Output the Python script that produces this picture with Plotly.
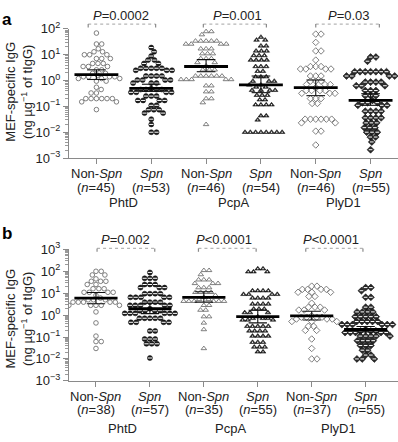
import numpy as np
import plotly.graph_objects as go

# ---------------- data ----------------
proteins = ["PhtD", "PcpA", "PlyD1"]
group_names = ["Non-Spn", "Spn"]
n_a = [45, 53, 46, 54, 46, 55]
n_b = [38, 57, 35, 55, 37, 55]
p_a = ["=0.0002", "=0.001", "=0.03"]
p_b = ["=0.002", "<0.0001", "<0.0001"]

# panel a: MEF-specific IgG (ng per ug tIgG)
a_phtd_non = [69, 26, 26, 17, 13, 13, 10, 10, 10, 7.1, 7.1, 7.1, 4.6, 4.6, 4.6, 3.5, 3.5, 3.5,
              2.6, 2.6, 1.9, 1.9, 1.6, 1.4, 1.4, 1.4, 1.4, 1.2, 1.2, 1.2, 0.95, 0.95, 0.55, 0.45,
              0.33, 0.33, 0.2, 0.2, 0.2, 0.2, 0.2, 0.2, 0.15, 0.15, 0.075]
a_phtd_spn = [19, 13, 8.9, 6.2, 6.2, 4.6, 4.6, 3.0, 3.0, 3.0, 3.0, 3.0, 2.5, 2.5, 2.5, 1.5, 1.5,
              1.5, 1.5, 1.05, 1.05, 1.05, 1.05, 0.8, 0.8, 0.8, 0.48, 0.45, 0.45, 0.45, 0.45, 0.35,
              0.35, 0.35, 0.35, 0.25, 0.25, 0.25, 0.17, 0.17, 0.17, 0.17, 0.11, 0.11, 0.074, 0.074,
              0.074, 0.055, 0.055, 0.032, 0.02, 0.01, 0.01]
a_pcpa_non = [79, 79, 60, 34, 34, 34, 34, 34, 26, 26, 26, 26, 17, 17, 17, 11, 11, 11, 7.1, 7.1,
              7.1, 5, 5, 3.7, 2.6, 2.6, 2.6, 1.5, 1.5, 1.5, 1.5, 1.5, 1.5, 1.1, 1.1, 1.1, 1.1, 1.1,
              0.63, 0.63, 0.37, 0.37, 0.2, 0.2, 0.14, 0.02]
a_pcpa_spn = [48, 37, 37, 22, 22, 14, 14, 14, 9.3, 9.3, 9.3, 6.2, 6.2, 6.2, 6.2, 3.5, 3.5, 3.5,
              2.3, 2.3, 1.4, 1.4, 1.4, 0.95, 0.95, 0.95, 0.68, 0.68, 0.56, 0.56, 0.42, 0.42, 0.42,
              0.42, 0.27, 0.27, 0.27, 0.18, 0.18, 0.115, 0.115, 0.115, 0.115, 0.043, 0.043, 0.03,
              0.01, 0.01, 0.01, 0.01, 0.01, 0.01, 0.01, 0.01]
a_plyd_non = [63, 63, 30, 14, 14, 6.2, 3.5, 3.5, 3.5, 2.8, 2.8, 2.8, 2.8, 1.5, 1.5, 1.5, 0.95,
              0.95, 0.95, 0.7, 0.7, 0.7, 0.54, 0.41, 0.41, 0.41, 0.41, 0.32, 0.32, 0.32, 0.2, 0.2,
              0.2, 0.13, 0.13, 0.032, 0.032, 0.032, 0.032, 0.032, 0.032, 0.023, 0.023, 0.011,
              0.011, 0.0032]
a_plyd_spn = [8.1, 8.1, 5.6, 2.2, 2.2, 2.2, 2.2, 2.2, 2.2, 2.2, 1.5, 1.5, 1.5, 1.5, 0.87, 0.87,
              0.87, 0.87, 0.63, 0.63, 0.63, 0.41, 0.41, 0.41, 0.26, 0.26, 0.26, 0.17, 0.14, 0.14,
              0.14, 0.11, 0.11, 0.11, 0.065, 0.065, 0.065, 0.065, 0.036, 0.036, 0.036, 0.036,
              0.023, 0.023, 0.023, 0.015, 0.015, 0.015, 0.01, 0.01, 0.01, 0.0065, 0.0065, 0.0042,
              0.0021]
a_center = [1.7, 0.5, 3.5, 0.68, 0.53, 0.17]
a_lo = [1.1, 0.38, 2.2, 0.34, 0.26, 0.11]
a_hi = [2.6, 0.72, 6.5, 1.5, 1.05, 0.31]

# panel b
b_phtd_non = [100, 100, 68, 68, 45, 35, 35, 35, 25, 25, 16, 16, 16, 11, 11, 11, 11, 8, 6.0, 5, 5,
              5, 3.9, 3.9, 3.9, 3.9, 3.9, 2.8, 2.8, 2.8, 2.8, 2.8, 1.4, 0.44, 0.11, 0.062, 0.062, 0.03]
b_phtd_spn = [89, 48, 48, 48, 25, 25, 25, 18, 18, 18, 9.5, 9.5, 9.5, 9.5, 6.5, 6.5, 6.5, 6.5, 6.5,
              3.9, 3.9, 3.9, 3.9, 2.8, 2.8, 2.8, 2.8, 2.8, 1.95, 1.6, 1.6, 1.6, 1.6, 1.2, 1.2, 1.2,
              1.2, 1.2, 1.2, 0.72, 0.72, 0.72, 0.72, 0.72, 0.47, 0.47, 0.47, 0.47, 0.19, 0.19,
              0.081, 0.081, 0.081, 0.049, 0.049, 0.049, 0.011]
b_pcpa_non = [110, 110, 71, 41, 41, 41, 28, 28, 28, 18, 18, 18, 11, 11, 11, 11, 8, 6.5, 5.2, 5.2,
              4.3, 4.3, 4.3, 4.3, 4.3, 4.3, 2.8, 2.8, 1.7, 1.7, 0.85, 0.85, 0.44, 0.22, 0.03]
b_pcpa_spn = [130, 130, 95, 95, 95, 13, 13, 13, 13, 8.9, 8.9, 8.9, 8.9, 6, 6, 6, 6, 3.2, 3.2, 3.2,
              3.2, 1.9, 1.9, 1.9, 1.3, 1.3, 1.3, 0.85, 0.71, 0.71, 0.71, 0.6, 0.6, 0.6, 0.31, 0.31,
              0.31, 0.31, 0.31, 0.19, 0.19, 0.19, 0.19, 0.11, 0.11, 0.11, 0.11, 0.058, 0.058, 0.058,
              0.035, 0.035, 0.035, 0.021, 0.021]
b_plyd_non = [21, 21, 15, 15, 15, 15, 11, 11, 11, 7.1, 7.1, 3.5, 2.3, 2.3, 2.3, 1.7, 1.7, 1.7,
              0.93, 0.8, 0.8, 0.8, 0.8, 0.66, 0.66, 0.66, 0.51, 0.51, 0.51, 0.31, 0.31, 0.2, 0.2,
              0.081, 0.03, 0.01, 0.01]
b_plyd_spn = [18, 18, 13, 6.5, 6.5, 2.3, 2.3, 1.4, 1.4, 1.4, 1.4, 0.85, 0.85, 0.85, 0.85, 0.85,
              0.51, 0.51, 0.51, 0.51, 0.51, 0.37, 0.37, 0.37, 0.37, 0.37, 0.37, 0.22, 0.19, 0.19,
              0.19, 0.16, 0.16, 0.16, 0.16, 0.16, 0.11, 0.11, 0.11, 0.11, 0.11, 0.068, 0.068,
              0.068, 0.068, 0.041, 0.041, 0.041, 0.025, 0.025, 0.015, 0.015, 0.01, 0.01, 0.01]
b_center = [6.0, 1.95, 6.5, 0.85, 0.93, 0.22]
b_lo = [3.3, 1.17, 3.9, 0.44, 0.6, 0.17]
b_hi = [10.7, 3.5, 11.7, 1.66, 1.5, 0.3]

panel_a = [a_phtd_non, a_phtd_spn, a_pcpa_non, a_pcpa_spn, a_plyd_non, a_plyd_spn]
panel_b = [b_phtd_non, b_phtd_spn, b_pcpa_non, b_pcpa_spn, b_plyd_non, b_plyd_spn]

# ---------------- helpers ----------------
FONT = "Liberation Sans, Arial, Helvetica, sans-serif"
W, H = 398, 442
TXT = "#222"
AX = "#8a8a8a"


def swarm(vals, px_dec, px_unit, d=5.3):
    y = np.log10(np.asarray(vals, float)) * px_dec
    order = np.argsort(-y, kind="stable")
    placed = []
    xs = np.zeros(len(y))
    for i in order:
        cands = [0.0]
        for xj, yj in placed:
            dy = abs(y[i] - yj)
            if dy < d:
                dx = np.sqrt(d * d - dy * dy)
                cands += [xj + dx, xj - dx]
        cands.sort(key=lambda c: (round(abs(c), 6), -c))
        for c in cands:
            if all((c - xj) ** 2 + (y[i] - yj) ** 2 >= d * d - 1e-6 for xj, yj in placed):
                xs[i] = c
                break
        placed.append((xs[i], y[i]))
    return xs / px_unit


GREY = "#707070"
styles = [
    dict(symbol="circle-open", color=GREY, size=4.6, line=dict(width=0.9, color=GREY)),
    dict(symbol="circle", color="#1c1c1c", size=5, line=dict(width=0.5, color="#000")),
    dict(symbol="triangle-up-open", color=GREY, size=4.8, line=dict(width=0.9, color=GREY)),
    dict(symbol="triangle-up", color="#2a2a2a", size=5, line=dict(width=0.5, color="#000")),
    dict(symbol="diamond-open", color=GREY, size=5, line=dict(width=0.9, color=GREY)),
    dict(symbol="diamond", color="#2a2a2a", size=5.4, line=dict(width=0.5, color="#000")),
]
overlay = [None, dict(symbol="line-ew-open", size=3, color="#ffffff", line=dict(width=1, color="#e0e0e0")),
           None, dict(symbol="circle", size=1.4, color="#ffffff", line=dict(width=0)),
           None, dict(symbol="line-ew-open", size=2.6, color="#ffffff", line=dict(width=1, color="#e0e0e0"))]

fig = go.Figure()

panels = [
    dict(data=panel_a, n=n_a, c=a_center, lo=a_lo, hi=a_hi, xa="x", ya="y", pxdec=26.9, pxu=54.8),
    dict(data=panel_b, n=n_b, c=b_center, lo=b_lo, hi=b_hi, xa="x2", ya="y2", pxdec=22.8, pxu=54.3),
]

for P in panels:
    for k, vals in enumerate(P["data"]):
        off = swarm(vals, P["pxdec"], P["pxu"])
        xs = k + off
        fig.add_trace(go.Scatter(x=xs, y=vals, mode="markers", marker=styles[k],
                                 xaxis=P["xa"], yaxis=P["ya"], showlegend=False, hoverinfo="skip"))
        if overlay[k] is not None:
            fig.add_trace(go.Scatter(x=xs, y=vals, mode="markers", marker=overlay[k],
                                     xaxis=P["xa"], yaxis=P["ya"], showlegend=False, hoverinfo="skip"))
    # centre line and error bars
    mx, my, ex, ey = [], [], [], []
    for k in range(6):
        mx += [k - 0.4, k + 0.4, None]
        my += [P["c"][k], P["c"][k], None]
        ex += [k, k, None, k - 0.17, k + 0.17, None, k - 0.17, k + 0.17, None]
        ey += [P["lo"][k], P["hi"][k], None, P["lo"][k], P["lo"][k], None, P["hi"][k], P["hi"][k], None]
    fig.add_trace(go.Scatter(x=ex, y=ey, mode="lines", line=dict(color="#111", width=1.1),
                             xaxis=P["xa"], yaxis=P["ya"], showlegend=False, hoverinfo="skip"))
    fig.add_trace(go.Scatter(x=mx, y=my, mode="lines", line=dict(color="#000", width=2.8),
                             xaxis=P["xa"], yaxis=P["ya"], showlegend=False, hoverinfo="skip"))


def ylog_axis(lo, hi, dom, anchor):
    vals = [10.0 ** e for e in range(lo, hi + 1)]
    txt = [f"10<sup>{'−' if e < 0 else ''}{abs(e)}</sup>" for e in range(lo, hi + 1)]
    minor_vals = [m * 10.0 ** e for e in range(lo, hi) for m in range(2, 10)]
    return dict(type="log", range=[lo, hi], domain=dom, tickvals=vals, ticktext=txt, anchor=anchor,
                showgrid=False, zeroline=False, showline=True, linecolor=AX, linewidth=1.3,
                ticks="outside", ticklen=5, tickcolor=AX, tickwidth=1.3,
                minor=dict(tickvals=minor_vals, ticks="outside", ticklen=2.5, tickcolor="#9a9a9a",
                           tickwidth=1, showgrid=False),
                tickfont=dict(size=13, color=TXT, family=FONT), fixedrange=True)


def x_axis(rng, anchor):
    return dict(range=rng, domain=[69 / W, 1.0], tickvals=list(range(6)), showticklabels=False,
                showgrid=False, zeroline=False, showline=True, linecolor=AX, linewidth=1.3,
                ticks="outside", ticklen=5, tickcolor=AX, tickwidth=1.3, anchor=anchor, fixedrange=True)


def py(px):
    return 1 - px / H


fig.update_layout(
    width=W, height=H, margin=dict(l=0, r=0, t=0, b=0, pad=0),
    paper_bgcolor="white", plot_bgcolor="white",
    font=dict(family=FONT, size=13, color=TXT),
    xaxis=x_axis([-0.5, 5.5], "y"),
    yaxis=ylog_axis(-3, 2, [py(155), py(20.7)], "x"),
    xaxis2=x_axis([-0.5, 5.6], "y2"),
    yaxis2=ylog_axis(-3, 3, [py(386.7), py(250)], "x2"),
)

ann = []
# category labels (two lines) and protein labels
for xr, ns, y1, y2, yg in [("x", n_a, 171.5, 185.5, 201), ("x2", n_b, 403, 417, 436)]:
    for k, n in enumerate(ns):
        line1 = "Non-<i>Spn</i>" if k % 2 == 0 else "<i>Spn</i>"
        ann.append(dict(x=k, y=py(y1), xref=xr, yref="paper", text=line1, showarrow=False,
                        yanchor="middle", font=dict(size=13)))
        ann.append(dict(x=k, y=py(y2), xref=xr, yref="paper", text=f"(<i>n</i>={n})", showarrow=False,
                        yanchor="middle", font=dict(size=13)))
    for j, name in enumerate(proteins):
        ann.append(dict(x=2 * j + 0.5, y=py(yg), xref=xr, yref="paper", text=name, showarrow=False,
                        font=dict(size=13), yanchor="middle"))
# y titles
for yc in (86, 322):
    ann.append(dict(x=19 / W, y=py(yc), xref="paper", yref="paper", textangle=-90,
                    text="MEF-specific IgG<br>(ng µg<sup>−1</sup> of tIgG)", showarrow=False,
                    font=dict(size=13), xanchor="center", yanchor="middle"))
# panel letters
ann.append(dict(x=0, y=py(-1), xref="paper", yref="paper", text="<b>a</b>", showarrow=False,
                font=dict(size=17, color="#000"), xanchor="left", yanchor="top"))
ann.append(dict(x=0, y=py(222), xref="paper", yref="paper", text="<b>b</b>", showarrow=False,
                font=dict(size=17, color="#000"), xanchor="left", yanchor="top"))

# P-values and brackets
br_a = [(-0.15, 1.08), (1.95, 3.10), (4.0, 5.16)]
br_b = [(0.02, 1.09), (1.9, 2.97), (3.89, 4.95)]
txt_a = [0.44, 2.57, 4.6]
txt_b = [0.55, 2.38, 4.36]
shapes = []
for (brs, txs, ps, xr, ytxt, ybr) in [(br_a, txt_a, p_a, "x", 7, 15.7), (br_b, txt_b, p_b, "x2", 240, 249)]:
    for (x0, x1), tx, p in zip(brs, txs, ps):
        ann.append(dict(x=tx, y=py(ytxt), xref=xr, yref="paper", text=f"<i>P</i>{p}", showarrow=False,
                        font=dict(size=13), yanchor="middle"))
        shapes.append(dict(type="line", xref=xr, yref="paper", x0=x0, x1=x1, y0=py(ybr), y1=py(ybr),
                           line=dict(color="#b5b5b5", width=1.2, dash="dot")))
        for xe in (x0, x1):
            shapes.append(dict(type="line", xref=xr, yref="paper", x0=xe, x1=xe, y0=py(ybr), y1=py(ybr + 3.5),
                               line=dict(color=AX, width=1.2)))

fig.update_layout(annotations=ann, shapes=shapes)
fig.write_html("out.html", config={"displayModeBar": False},
               post_script="document.body.style.margin='0';document.body.style.overflow='hidden';")
